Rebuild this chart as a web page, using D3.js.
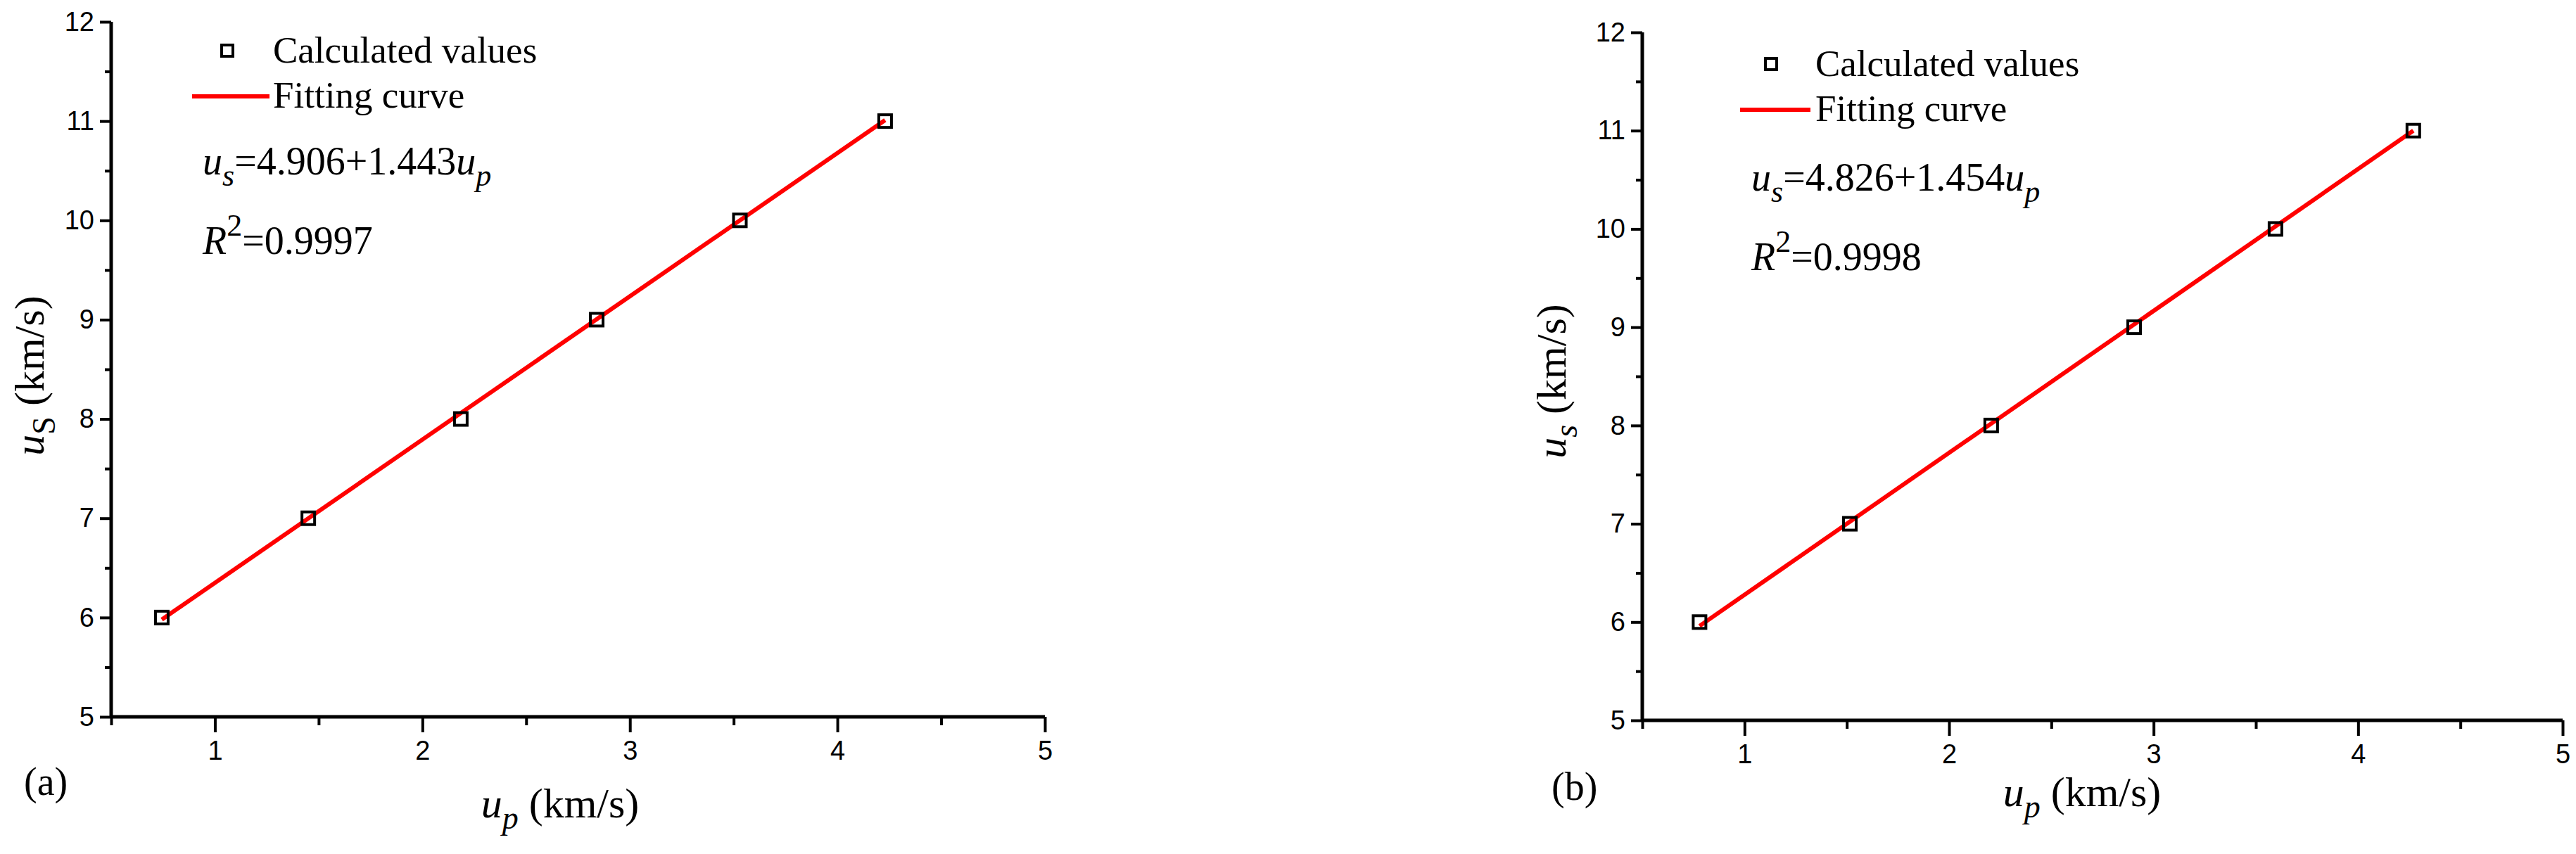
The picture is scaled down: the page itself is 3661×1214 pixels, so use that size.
<!DOCTYPE html>
<html>
<head>
<meta charset="utf-8">
<script src="https://cdn.jsdelivr.net/npm/d3@7"></script>
<style>
  body { margin: 0; background: #fff; }
  svg text { fill: #000; }
</style>
</head>
<body>
<svg id="chart" width="3661" height="1214"></svg>
<script>
// panel (a) data
var upA = [0.744, 1.45, 2.185, 2.84, 3.53, 4.23];
var usA = [6, 7, 8, 9, 10, 11];
var fitUpA = [0.744, 4.23];
var fitUsA = [5.98, 11.01];

// panel (b) data
var upB = [0.78, 1.515, 2.206, 2.905, 3.596, 4.27];
var usB = [6, 7, 8, 9, 10, 11];
var fitUpB = [0.78, 4.27];
var fitUsB = [5.96, 11.0];

var xTicks = [1, 2, 3, 4, 5];
var yTicks = [5, 6, 7, 8, 9, 10, 11, 12];

var svg = d3.select("#chart");

function drawPanel(p) {
  var x = d3.scaleLinear().domain([0.5, 5]).range([p.left, p.right]);
  var y = d3.scaleLinear().domain([5, 12]).range([p.bottom, p.top]);
  var g = svg.append("g");

  // x axis, major + minor ticks
  var xAxis = d3.axisBottom(x).tickValues(xTicks).tickSize(22).tickPadding(12).tickFormat(d3.format("d"));
  var gx = g.append("g").attr("transform", "translate(0," + p.bottom + ")").call(xAxis);
  gx.select(".domain").attr("stroke-width", 5).attr("d", "M" + p.left + ",0H" + p.right);
  gx.selectAll(".tick line").attr("stroke-width", 4);
  gx.selectAll("text").attr("font-family", "Liberation Sans, Arial").attr("font-size", 38);
  g.append("g").attr("transform", "translate(0," + p.bottom + ")")
    .call(d3.axisBottom(x).tickValues([0.5, 1.5, 2.5, 3.5, 4.5]).tickSize(12).tickFormat(""))
    .call(s => s.select(".domain").remove())
    .selectAll("line").attr("stroke-width", 4);

  // y axis
  var yAxis = d3.axisLeft(y).tickValues(yTicks).tickSize(16).tickPadding(8).tickFormat(d3.format("d"));
  var gy = g.append("g").attr("transform", "translate(" + p.left + ",0)").call(yAxis);
  gy.select(".domain").attr("stroke-width", 5).attr("d", "M0," + p.top + "V" + p.bottom);
  gy.selectAll(".tick line").attr("stroke-width", 4);
  gy.selectAll("text").attr("font-family", "Liberation Sans, Arial").attr("font-size", 38);
  g.append("g").attr("transform", "translate(" + p.left + ",0)")
    .call(d3.axisLeft(y).tickValues([5.5, 6.5, 7.5, 8.5, 9.5, 10.5, 11.5]).tickSize(9).tickFormat(""))
    .call(s => s.select(".domain").remove())
    .selectAll("line").attr("stroke-width", 4);

  // fitting line
  var line = d3.line().x(d => x(d[0])).y(d => y(d[1]));
  g.append("path").datum(d3.zip(p.fitUp, p.fitUs))
    .attr("d", line).attr("fill", "none").attr("stroke", "#ff0000").attr("stroke-width", 6);

  // points
  g.selectAll("rect.pt").data(d3.zip(p.up, p.us)).enter().append("rect")
    .attr("class", "pt")
    .attr("x", d => x(d[0]) - 9).attr("y", d => y(d[1]) - 9)
    .attr("width", 18).attr("height", 18)
    .attr("fill", "none").attr("stroke", "#000").attr("stroke-width", 4);

  var serif = "Liberation Serif, Times New Roman, serif";

  // legend
  g.append("rect").attr("x", p.legX - 8).attr("y", p.legY - 8).attr("width", 16).attr("height", 16)
    .attr("fill", "none").attr("stroke", "#000").attr("stroke-width", 4);
  g.append("text").attr("x", p.legTextX).attr("y", p.legY + 17).attr("font-family", serif)
    .attr("font-size", 53).text("Calculated values");
  g.append("line").attr("x1", p.legLineX0).attr("x2", p.legLineX1)
    .attr("y1", p.legY + 65).attr("y2", p.legY + 65).attr("stroke", "#ff0000").attr("stroke-width", 6);
  g.append("text").attr("x", p.legTextX).attr("y", p.legY + 81).attr("font-family", serif)
    .attr("font-size", 53).text("Fitting curve");

  // equation
  var eq = g.append("text").attr("x", p.eqX).attr("y", p.eqY).attr("font-family", serif).attr("font-size", 56);
  eq.append("tspan").attr("font-style", "italic").text("u");
  eq.append("tspan").attr("font-style", "italic").attr("font-size", 44).attr("dy", 16).text("s");
  eq.append("tspan").attr("dy", -16).text("=" + p.eq);
  eq.append("tspan").attr("font-style", "italic").text("u");
  eq.append("tspan").attr("font-style", "italic").attr("font-size", 44).attr("dy", 16).text("p");

  var r2 = g.append("text").attr("x", p.eqX).attr("y", p.eqY + 113).attr("font-family", serif).attr("font-size", 56);
  r2.append("tspan").attr("font-style", "italic").text("R");
  r2.append("tspan").attr("font-size", 44).attr("dy", -26).text("2");
  r2.append("tspan").attr("dy", 26).text("=" + p.r2);

  // panel label
  g.append("text").attr("x", p.labX).attr("y", p.labY).attr("font-family", serif)
    .attr("font-size", 56).text(p.label);

  // x title
  var xt = g.append("text").attr("x", p.xtX).attr("y", p.xtY).attr("text-anchor", "middle")
    .attr("font-family", serif).attr("font-size", 60);
  xt.append("tspan").attr("font-style", "italic").text("u");
  xt.append("tspan").attr("font-style", "italic").attr("font-size", 46).attr("dy", 16).text("p");
  xt.append("tspan").attr("dy", -16).text(" (km/s)");

  // y title
  var yt = g.append("text").attr("transform", "translate(" + p.ytX + "," + p.ytY + ") rotate(-90)")
    .attr("text-anchor", "middle").attr("font-family", serif).attr("font-size", 60);
  yt.append("tspan").attr("font-style", "italic").text("u");
  yt.append("tspan").attr("font-style", p.subItalic ? "italic" : "normal").attr("font-size", 46).attr("dy", 16).text(p.sub);
  yt.append("tspan").attr("dy", -16).text(" (km/s)");
}

drawPanel({
  left: 158, right: 1485, top: 31, bottom: 1019,
  up: upA, us: usA, fitUp: fitUpA, fitUs: fitUsA,
  legX: 323, legY: 72, legTextX: 388, legLineX0: 273, legLineX1: 383,
  eqX: 288, eqY: 248, eq: "4.906+1.443", r2: "0.9997",
  label: "(a)", labX: 34, labY: 1130,
  xtX: 796, xtY: 1162, ytX: 62, ytY: 534, sub: "S", subItalic: false
});

drawPanel({
  left: 2334, right: 3642, top: 46, bottom: 1024,
  up: upB, us: usB, fitUp: fitUpB, fitUs: fitUsB,
  legX: 2517, legY: 91, legTextX: 2580, legLineX0: 2473, legLineX1: 2573,
  eqX: 2489, eqY: 271, eq: "4.826+1.454", r2: "0.9998",
  label: "(b)", labX: 2205, labY: 1137,
  xtX: 2959, xtY: 1146, ytX: 2225, ytY: 542, sub: "s", subItalic: true
});
</script>
</body>
</html>
